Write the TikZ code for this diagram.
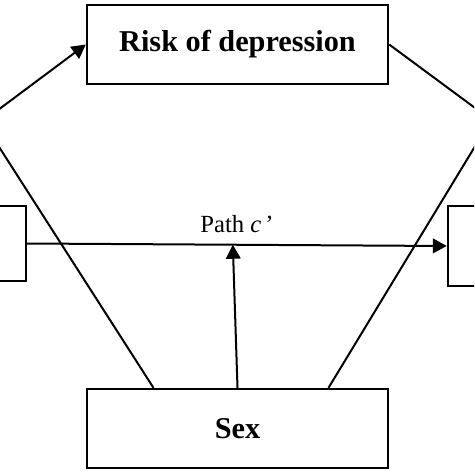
\documentclass[tikz,border=0pt]{standalone}
\usepackage{fontspec}
\setmainfont{Liberation Serif}
\usepackage{tikz}
\usetikzlibrary{arrows.meta}
\usetikzlibrary{positioning, calc}
\tikzset{
var box/.style = { rectangle, draw = black, fill = white, line width = 1.8pt, inner sep = 0pt },
path line/.style = { draw = black, line width = 1.5pt, -{Triangle[length = 10.5pt, width = 11pt]} },
}

\begin{document}
\begin{tikzpicture}[x = 0.75pt, y = -0.75pt]
      \clip (0, 0) rectangle (474, 474);
      \fill[white] (0, 0) rectangle (474, 474);
      \node[var box, minimum width = 225.75pt, minimum height = 59.25pt, font = \fontsize{22.7}{26}\selectfont\bfseries] (risk) at (237.5, 44.5) {Risk of depression};
      \node[var box, minimum width = 225.75pt, minimum height = 59.25pt, font = \fontsize{22.7}{26}\selectfont\bfseries] (sex) at (237.5, 428.5) {Sex};
      \node[var box, minimum width = 232.5pt, minimum height = 56.25pt] (expo) at (-129, 243.5) {};
      \node[var box, minimum width = 237pt, minimum height = 60pt] (outc) at (606, 246) {};
      \draw[path line] (expo.north) -- (risk.west);
      \draw[path line] (risk.east) -- (outc.north);
      \draw[path line] (expo.east) -- (outc.west) node[midway, above = 5pt, font = \fontsize{18.5}{21}\selectfont] (pathc) {Path \textit{c}\,’};
      \coordinate (ma) at ($(expo.north)!0.52!(risk.west)$);
      \coordinate (mb) at ($(risk.east)!0.47!(outc.north)$);
      \coordinate (mc) at ($(expo.east)!0.49!(outc.west)$);
      \draw[path line] ($(sex.north west)!0.223!(sex.north east)$) -- (ma);
      \draw[path line] ($(sex.north west)!0.80!(sex.north east)$) -- (mb);
      \draw[path line] (sex.north) -- (mc);
\end{tikzpicture}
\end{document}
